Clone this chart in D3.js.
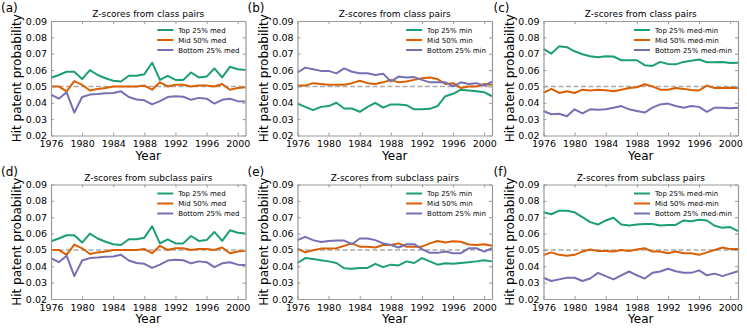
<!DOCTYPE html>
<html>
<head>
<meta charset="utf-8">
<script src="https://cdn.jsdelivr.net/npm/d3@7"></script>
<style>
  body { margin: 0; background: #fff; }
  svg { font-family: "DejaVu Sans", sans-serif; }
</style>
</head>
<body>
<div id="chart"></div>
<script>
// years on the x axis
var years = d3.range(1976, 2002);
var yTicks = [0.02, 0.03, 0.04, 0.05, 0.06, 0.07, 0.08, 0.09];
var xTicks = [1976, 1980, 1984, 1988, 1992, 1996, 2000];

// (a) and (d) - med
var topMed = [0.0553, 0.057, 0.059, 0.059, 0.0545, 0.060, 0.057, 0.055, 0.0535, 0.053, 0.0565, 0.0565, 0.0575, 0.0645, 0.054, 0.0565, 0.054, 0.054, 0.0585, 0.0555, 0.056, 0.061, 0.0555, 0.062, 0.0605, 0.060];
var midMed = [0.050, 0.050, 0.047, 0.0533, 0.051, 0.0475, 0.0485, 0.049, 0.050, 0.050, 0.050, 0.050, 0.0505, 0.048, 0.0525, 0.050, 0.051, 0.051, 0.050, 0.0505, 0.0505, 0.050, 0.0515, 0.048, 0.049, 0.0495];
var botMed = [0.045, 0.0425, 0.0465, 0.034, 0.0435, 0.045, 0.0453, 0.0458, 0.046, 0.047, 0.0435, 0.042, 0.0415, 0.039, 0.041, 0.0435, 0.044, 0.0437, 0.0418, 0.043, 0.0425, 0.0395, 0.0418, 0.0425, 0.041, 0.0408];

// (b) class pairs - min
var topMinB = [0.0395, 0.0375, 0.0355, 0.0375, 0.038, 0.040, 0.0365, 0.0365, 0.0345, 0.0375, 0.040, 0.037, 0.039, 0.039, 0.0385, 0.036, 0.036, 0.0363, 0.038, 0.044, 0.0455, 0.048, 0.0475, 0.047, 0.0465, 0.044];
var midMinB = [0.0505, 0.0505, 0.052, 0.0515, 0.051, 0.051, 0.051, 0.052, 0.0535, 0.052, 0.0515, 0.0525, 0.054, 0.0525, 0.053, 0.054, 0.055, 0.0555, 0.0545, 0.0515, 0.052, 0.049, 0.050, 0.050, 0.0515, 0.051];
var botMinB = [0.0585, 0.0615, 0.0605, 0.0595, 0.0595, 0.058, 0.061, 0.059, 0.058, 0.058, 0.057, 0.0578, 0.053, 0.056, 0.0555, 0.0557, 0.054, 0.0525, 0.0525, 0.0525, 0.050, 0.0525, 0.0515, 0.052, 0.0505, 0.053];

// (c) class pairs - med-min
var topMmC = [0.073, 0.070, 0.0745, 0.074, 0.0715, 0.0697, 0.0685, 0.0678, 0.0685, 0.0683, 0.066, 0.066, 0.066, 0.063, 0.0625, 0.065, 0.0637, 0.0635, 0.065, 0.0657, 0.0665, 0.0648, 0.0648, 0.065, 0.0643, 0.0645];
var midMmC = [0.046, 0.0485, 0.046, 0.047, 0.046, 0.048, 0.0475, 0.048, 0.0477, 0.047, 0.048, 0.049, 0.0495, 0.0513, 0.050, 0.048, 0.048, 0.049, 0.0485, 0.0478, 0.0475, 0.0505, 0.049, 0.049, 0.0492, 0.049];
var botMmC = [0.035, 0.033, 0.0333, 0.0318, 0.036, 0.0335, 0.036, 0.0357, 0.036, 0.037, 0.038, 0.036, 0.035, 0.034, 0.037, 0.039, 0.0395, 0.038, 0.037, 0.038, 0.0375, 0.0345, 0.037, 0.037, 0.0367, 0.037];

// (e) subclass pairs - min
var topMinE = [0.042, 0.045, 0.0445, 0.0437, 0.043, 0.042, 0.0388, 0.0385, 0.039, 0.039, 0.0415, 0.0395, 0.041, 0.0405, 0.043, 0.042, 0.045, 0.043, 0.041, 0.0418, 0.0415, 0.042, 0.0425, 0.043, 0.0437, 0.043];
var midMinE = [0.0508, 0.0485, 0.0498, 0.0508, 0.0508, 0.051, 0.0525, 0.054, 0.052, 0.052, 0.0515, 0.053, 0.053, 0.054, 0.052, 0.052, 0.052, 0.054, 0.0555, 0.0545, 0.0553, 0.055, 0.0533, 0.053, 0.0535, 0.0525];
var botMinE = [0.056, 0.058, 0.056, 0.0548, 0.0555, 0.0557, 0.0557, 0.0535, 0.057, 0.057, 0.056, 0.054, 0.053, 0.0515, 0.0535, 0.0535, 0.0505, 0.0482, 0.0482, 0.049, 0.048, 0.048, 0.051, 0.051, 0.049, 0.051];

// (f) subclass pairs - med-min
var topMmF = [0.073, 0.0718, 0.074, 0.074, 0.073, 0.070, 0.067, 0.0655, 0.068, 0.0697, 0.0655, 0.065, 0.0655, 0.0658, 0.0658, 0.065, 0.0653, 0.0653, 0.068, 0.0675, 0.0685, 0.068, 0.0648, 0.0635, 0.064, 0.0615];
var midMmF = [0.0468, 0.0485, 0.047, 0.0465, 0.047, 0.049, 0.0503, 0.0493, 0.0493, 0.049, 0.050, 0.0493, 0.0503, 0.051, 0.049, 0.049, 0.048, 0.049, 0.048, 0.048, 0.047, 0.0485, 0.050, 0.0515, 0.0505, 0.0505];
var botMmF = [0.033, 0.031, 0.032, 0.033, 0.033, 0.031, 0.0325, 0.036, 0.034, 0.032, 0.0345, 0.0368, 0.0345, 0.0325, 0.036, 0.0368, 0.0385, 0.037, 0.036, 0.036, 0.0375, 0.0345, 0.0355, 0.034, 0.0355, 0.037];

var colors = ["#1b9e77", "#d95f02", "#7570b3"];

var panels = [
  {tag: "(a)", title: "Z-scores from class pairs", suffix: "med", series: [topMed, midMed, botMed]},
  {tag: "(b)", title: "Z-scores from class pairs", suffix: "min", series: [topMinB, midMinB, botMinB]},
  {tag: "(c)", title: "Z-scores from class pairs", suffix: "med-min", series: [topMmC, midMmC, botMmC]},
  {tag: "(d)", title: "Z-scores from subclass pairs", suffix: "med", series: [topMed, midMed, botMed]},
  {tag: "(e)", title: "Z-scores from subclass pairs", suffix: "min", series: [topMinE, midMinE, botMinE]},
  {tag: "(f)", title: "Z-scores from subclass pairs", suffix: "med-min", series: [topMmF, midMmF, botMmF]}
];
var names = ["Top 25% ", "Mid 50% ", "Bottom 25% "];

var W = 747, H = 333;
var colLeft = [51, 297.5, 543.5], rowTop = [21, 184.5];
var pw = 194.5, ph = 114.5;
var frame = "#999";

var svg = d3.select("#chart").append("svg")
  .attr("width", W).attr("height", H);

panels.forEach(function(p, i) {
  var left = colLeft[i % 3], top = rowTop[Math.floor(i / 3)];
  var g = svg.append("g").attr("transform", "translate(" + left + "," + top + ")");

  var x = d3.scaleLinear().domain([1976, 2001]).range([0, pw]);
  var y = d3.scaleLinear().domain([0.02, 0.09]).range([ph, 0]);

  // panel tag
  svg.append("text")
    .attr("x", left - 50).attr("y", top - 9)
    .style("font-size", "12px")
    .text(p.tag);

  // title
  g.append("text")
    .attr("x", pw / 2).attr("y", -4)
    .attr("text-anchor", "middle")
    .style("font-size", "9px")
    .text(p.title);

  // 0.05 reference line
  g.append("line")
    .attr("x1", 0).attr("x2", pw)
    .attr("y1", y(0.05)).attr("y2", y(0.05))
    .style("stroke", "#aaa").style("stroke-width", 1.5)
    .style("stroke-dasharray", "5,2.5");

  var line = d3.line()
    .x(function(d, k) { return x(years[k]); })
    .y(function(d) { return y(d); });

  p.series.forEach(function(s, k) {
    g.append("path")
      .attr("d", line(s))
      .style("fill", "none")
      .style("stroke", colors[k])
      .style("stroke-width", 2)
      .style("stroke-linejoin", "round");
  });

  // axes, ticks pointing inward on all sides
  var axB = g.append("g").attr("transform", "translate(0," + ph + ")")
    .call(d3.axisBottom(x).tickValues(xTicks).tickFormat(d3.format("d")).tickSizeInner(-3).tickSizeOuter(0).tickPadding(5));
  var axT = g.append("g")
    .call(d3.axisTop(x).tickValues(xTicks).tickFormat("").tickSizeInner(-3).tickSizeOuter(0));
  var axL = g.append("g")
    .call(d3.axisLeft(y).tickValues(yTicks).tickFormat(d3.format(".2f")).tickSizeInner(-3).tickSizeOuter(0).tickPadding(4));
  var axR = g.append("g").attr("transform", "translate(" + pw + ",0)")
    .call(d3.axisRight(y).tickValues(yTicks).tickFormat("").tickSizeInner(-3).tickSizeOuter(0));

  [axB, axT, axL, axR].forEach(function(a) {
    a.select(".domain").style("stroke", frame).style("stroke-width", 1.2);
    a.selectAll(".tick line").style("stroke", frame);
    a.selectAll(".tick text").style("font-size", "9.5px").style("font-family", "DejaVu Sans").style("fill", "#000");
  });

  // axis titles
  g.append("text")
    .attr("transform", "translate(-30," + (ph / 2) + ") rotate(-90)")
    .attr("text-anchor", "middle")
    .style("font-size", "12px")
    .text("Hit patent probability");
  g.append("text")
    .attr("x", pw / 2).attr("y", ph + 24)
    .attr("text-anchor", "middle")
    .style("font-size", "12px")
    .text("Year");

  // legend, right aligned in the upper right corner
  var leg = g.append("g");
  var texts = [];
  p.series.forEach(function(s, k) {
    leg.append("line")
      .attr("x1", 0).attr("x2", 16)
      .attr("y1", 9 + k * 10).attr("y2", 9 + k * 10)
      .style("stroke", colors[k]).style("stroke-width", 2);
    texts.push(leg.append("text")
      .attr("x", 21).attr("y", 9 + k * 10 + 2.5)
      .style("font-size", "7px")
      .text(names[k] + p.suffix));
  });
  var maxW = d3.max(texts, function(t) { return t.node().getComputedTextLength(); });
  leg.attr("transform", "translate(" + (pw - 6 - 21 - maxW) + ",0)");
});
</script>
</body>
</html>
